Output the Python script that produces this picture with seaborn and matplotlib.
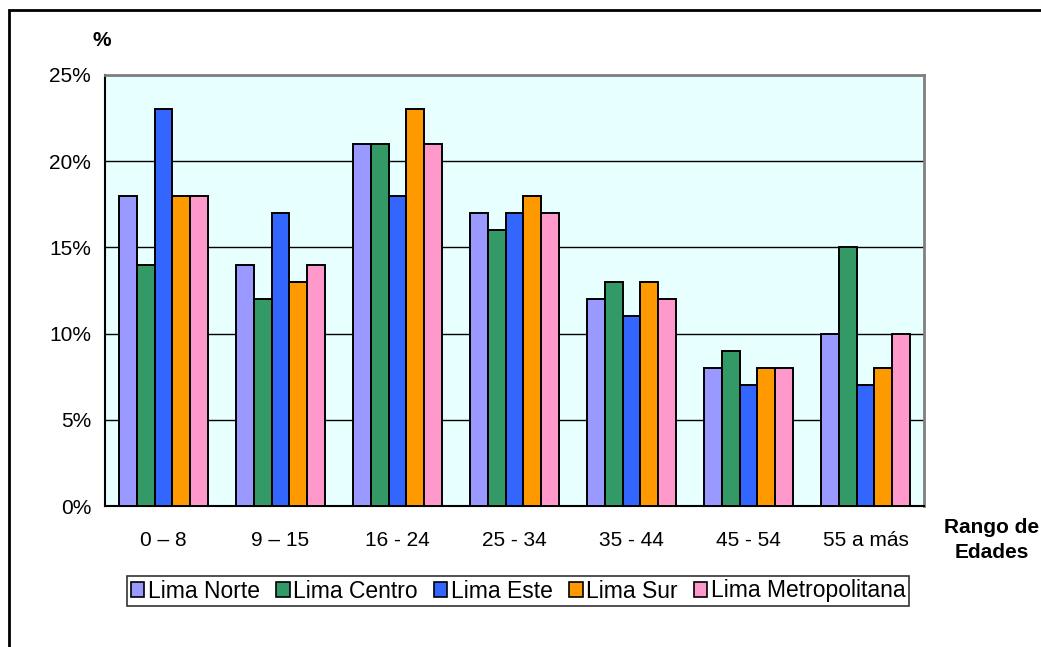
import pandas as pd
import seaborn as sns
import matplotlib.pyplot as plt
from matplotlib.patches import Rectangle, Patch
from matplotlib.ticker import PercentFormatter

rangos = ['0 – 8', '9 – 15', '16 - 24', '25 - 34', '35 - 44', '45 - 54', '55 a más']
zonas = ['Lima Norte', 'Lima Centro', 'Lima Este', 'Lima Sur', 'Lima Metropolitana']
lima_norte = [18, 14, 21, 17, 12, 8, 10]
lima_centro = [14, 12, 21, 16, 13, 9, 15]
lima_este = [23, 17, 18, 17, 11, 7, 7]
lima_sur = [18, 13, 23, 18, 13, 8, 8]
lima_metro = [18, 14, 21, 17, 12, 8, 10]
colores = ['#9999FF', '#339966', '#3366FF', '#FF9900', '#FF99CC']

series = [lima_norte, lima_centro, lima_este, lima_sur, lima_metro]
rows = []
for zona, vals in zip(zonas, series):
    for r, v in zip(rangos, vals):
        rows.append({'rango': r, 'zona': zona, 'valor': v})
df = pd.DataFrame(rows)

sns.set_style('white')
plt.rcParams['font.family'] = ['Liberation Sans', 'DejaVu Sans']
plt.rcParams['text.color'] = 'black'
plt.rcParams['xtick.color'] = 'black'
plt.rcParams['ytick.color'] = 'black'
plt.rcParams['axes.labelcolor'] = 'black'

fig = plt.figure(figsize=(10.41, 6.47), dpi=100)
ax = fig.add_axes([105 / 1041, 1 - 506 / 647, 819 / 1041, 431 / 647])
ax.set_facecolor('#E8FFFF')

sns.barplot(data=df, x='rango', y='valor', hue='zona', hue_order=zonas,
            palette=colores, saturation=1, width=0.76, edgecolor='black',
            linewidth=1.4, ax=ax, legend=False, zorder=3)

ax.set_ylim(0, 25)
ax.set_xlim(-0.5, 6.5)
ax.set_yticks([0, 5, 10, 15, 20, 25])
ax.yaxis.set_major_formatter(PercentFormatter(decimals=0))
ax.yaxis.grid(True, color='black', linewidth=1.0, zorder=0)
ax.set_axisbelow(True)
ax.set_xlabel('')
ax.set_ylabel('')

ax.set_xticks(range(7))
ax.set_xticklabels(rangos)
ax.set_xticks([i - 0.5 for i in range(8)], minor=True)
ax.tick_params(axis='x', which='major', length=0, pad=18, labelsize=15)
ax.tick_params(axis='x', which='minor', length=5, width=1.2, color='black', direction='out')
ax.tick_params(axis='y', length=5, width=1.2, color='black', direction='out', labelsize=15, pad=5)

for s in ['left', 'bottom']:
    ax.spines[s].set_color('black')
    ax.spines[s].set_linewidth(1.5)
for s in ['top', 'right']:
    ax.spines[s].set_color('#808080')
    ax.spines[s].set_linewidth(2)

fig.text(102 / 1041, 1 - 41 / 647, '%', fontsize=15, fontweight='bold', ha='center', va='center')
fig.text(992 / 1041, 1 - 540 / 647, 'Rango de\nEdades', fontsize=15, fontweight='bold',
         ha='center', va='center', linespacing=1.35)

handles = [Patch(facecolor=c, edgecolor='black', linewidth=1.2) for c in colores]
leg = fig.legend(handles, zonas, ncol=5, loc='center', bbox_to_anchor=(518 / 1041, 1 - 591 / 647),
                 frameon=True, fancybox=False, edgecolor='black', fontsize=16.5,
                 handlelength=0.6, handleheight=0.6, handletextpad=0.15, columnspacing=0.7,
                 borderpad=0.15, borderaxespad=0)
leg.get_frame().set_linewidth(1.2)

fig.patches.append(Rectangle((9 / 1041, -0.05), 1.1, 1 - 10 / 647 + 0.05, transform=fig.transFigure,
                             fill=False, edgecolor='black', linewidth=2))

fig.savefig('out.png', dpi=100)
